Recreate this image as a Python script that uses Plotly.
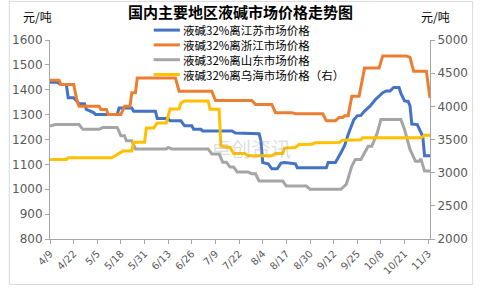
import plotly.graph_objects as go

title = "国内主要地区液碱市场价格走势图"
names = ["液碱32%离江苏市场价格", "液碱32%离浙江市场价格", "液碱32%离山东市场价格", "液碱32%离乌海市场价格（右）"]
colors = ["#4472C4", "#ED7D31", "#A5A5A5", "#FFC000"]

js_dates = ["2023-04-09", "2023-04-13", "2023-04-15", "2023-04-18", "2023-04-19", "2023-04-22", "2023-04-25",
            "2023-04-28", "2023-04-29", "2023-05-03", "2023-05-04", "2023-05-16", "2023-05-17", "2023-05-24",
            "2023-05-25", "2023-06-06", "2023-06-07", "2023-06-13", "2023-06-14", "2023-06-20", "2023-06-22",
            "2023-06-26", "2023-06-27", "2023-07-01", "2023-07-02", "2023-07-18", "2023-07-20", "2023-08-02",
            "2023-08-03", "2023-08-04", "2023-08-07", "2023-08-09", "2023-08-12", "2023-08-14", "2023-08-16",
            "2023-08-22", "2023-08-23", "2023-09-08", "2023-09-09", "2023-09-13", "2023-09-16", "2023-09-18",
            "2023-09-20", "2023-09-23", "2023-09-25", "2023-09-27", "2023-09-29", "2023-10-02", "2023-10-05",
            "2023-10-09", "2023-10-11", "2023-10-13", "2023-10-15", "2023-10-18", "2023-10-19", "2023-10-21",
            "2023-10-23", "2023-10-24", "2023-10-25", "2023-10-28", "2023-10-31", "2023-11-01", "2023-11-04"]
js_vals = [1430, 1430, 1421, 1421, 1368, 1368, 1344,
           1344, 1321, 1308, 1301, 1301, 1327, 1327,
           1314, 1314, 1284, 1284, 1275, 1275, 1255,
           1255, 1241, 1241, 1234, 1234, 1226, 1223,
           1195, 1107, 1102, 1082, 1082, 1105, 1107,
           1102, 1086, 1086, 1108, 1108, 1147, 1175,
           1220, 1278, 1295, 1297, 1314, 1334, 1361,
           1388, 1395, 1395, 1409, 1409, 1385, 1355,
           1353, 1335, 1262, 1260, 1213, 1135, 1135]

zj_dates = ["2023-04-09", "2023-04-14", "2023-04-15", "2023-04-22", "2023-04-24", "2023-04-25", "2023-05-06",
            "2023-05-07", "2023-05-10", "2023-05-11", "2023-05-18", "2023-05-20", "2023-05-23", "2023-05-24",
            "2023-05-26", "2023-05-27", "2023-06-17", "2023-06-19", "2023-07-07", "2023-07-09", "2023-07-29",
            "2023-07-31", "2023-08-09", "2023-08-11", "2023-08-20", "2023-08-22", "2023-09-06", "2023-09-08",
            "2023-09-13", "2023-09-15", "2023-09-17", "2023-09-18", "2023-09-20", "2023-09-22", "2023-09-26",
            "2023-09-29", "2023-10-07", "2023-10-09", "2023-10-22", "2023-10-24", "2023-10-26", "2023-11-02",
            "2023-11-04"]
zj_vals = [1438, 1438, 1421, 1421, 1351, 1334, 1334,
           1321, 1321, 1301, 1301, 1334, 1334, 1388,
           1388, 1447, 1447, 1394, 1394, 1357, 1357,
           1341, 1341, 1308, 1308, 1304, 1304, 1275,
           1275, 1288, 1288, 1295, 1295, 1374, 1374,
           1487, 1487, 1536, 1536, 1530, 1474, 1474,
           1367]

sd_dates = ["2023-04-09", "2023-04-12", "2023-04-25", "2023-04-27", "2023-05-06", "2023-05-08", "2023-05-16",
            "2023-05-18", "2023-05-20", "2023-05-21", "2023-05-24", "2023-05-26", "2023-06-12", "2023-06-13",
            "2023-06-15", "2023-07-05", "2023-07-07", "2023-07-11", "2023-07-13", "2023-07-15", "2023-07-17",
            "2023-07-19", "2023-07-21", "2023-07-27", "2023-07-29", "2023-07-31", "2023-08-02", "2023-08-15",
            "2023-08-17", "2023-08-28", "2023-08-30", "2023-09-16", "2023-09-19", "2023-09-22", "2023-09-24",
            "2023-09-27", "2023-09-29", "2023-10-01", "2023-10-03", "2023-10-06", "2023-10-08", "2023-10-19",
            "2023-10-21", "2023-10-24", "2023-10-27", "2023-10-29", "2023-10-30", "2023-11-01", "2023-11-04"]
sd_vals = [1254, 1260, 1260, 1241, 1241, 1248, 1248,
           1215, 1215, 1195, 1195, 1162, 1162, 1168,
           1162, 1162, 1142, 1142, 1109, 1109, 1089,
           1089, 1069, 1069, 1062, 1062, 1033, 1033,
           1013, 1013, 1000, 1000, 1020, 1093, 1120,
           1120, 1147, 1173, 1173, 1227, 1280, 1280,
           1240, 1160, 1113, 1113, 1122, 1073, 1073]

wh_dates = ["2023-04-09", "2023-04-18", "2023-04-19", "2023-05-13", "2023-05-16", "2023-05-19", "2023-05-24",
            "2023-05-25", "2023-05-31", "2023-06-01", "2023-06-05", "2023-06-07", "2023-06-12", "2023-06-14",
            "2023-06-19", "2023-06-20", "2023-06-22", "2023-07-05", "2023-07-06", "2023-07-11", "2023-07-12",
            "2023-07-17", "2023-07-19", "2023-07-25", "2023-07-27", "2023-08-09", "2023-08-11", "2023-08-15",
            "2023-08-16", "2023-08-22", "2023-08-24", "2023-08-31", "2023-09-02", "2023-09-15", "2023-09-17",
            "2023-09-27", "2023-09-28", "2023-10-30", "2023-11-01", "2023-11-04"]
wh_vals = [3200, 3200, 3225, 3225, 3275, 3325, 3325,
           3460, 3460, 3675, 3675, 3750, 3750, 3960,
           3960, 4050, 4080, 4080, 3955, 3955, 3400,
           3380, 3290, 3290, 3255, 3255, 3290, 3290,
           3370, 3380, 3425, 3430, 3450, 3455, 3490,
           3495, 3525, 3525, 3565, 3565]

tick_dates = ["2023-04-09", "2023-04-22", "2023-05-05", "2023-05-18", "2023-05-31", "2023-06-13", "2023-06-26",
              "2023-07-09", "2023-07-22", "2023-08-04", "2023-08-17", "2023-08-30", "2023-09-12", "2023-09-25",
              "2023-10-08", "2023-10-21", "2023-11-03"]
tick_labels = ["4/9", "4/22", "5/5", "5/18", "5/31", "6/13", "6/26", "7/9", "7/22", "8/4", "8/17", "8/30",
               "9/12", "9/25", "10/8", "10/21", "11/3"]
left_ticks = [800, 900, 1000, 1100, 1200, 1300, 1400, 1500, 1600]
right_ticks = [2000, 2500, 3000, 3500, 4000, 4500, 5000]

CJK = "Noto Sans CJK SC"
L, R, T, B = 43, 45, 40, 47
PW, PH = 480 - L - R, 288 - T - B


def px(x):
    return (x - L) / PW


def py(y):
    return (288 - B - y) / PH


fig = go.Figure()
series = [(js_dates, js_vals, "y"), (zj_dates, zj_vals, "y"), (sd_dates, sd_vals, "y"), (wh_dates, wh_vals, "y2")]
for (d, v, ax), n, c in zip(series, names, colors):
    fig.add_trace(go.Scatter(x=d, y=v, name=n, mode="lines", yaxis=ax,
                             line=dict(color=c, width=3), showlegend=False))

axis_col = "#A6A6A6"
tick_font = dict(family="DejaVu Sans, Arial", size=12, color="#595959")
fig.update_layout(
    width=480, height=288,
    margin=dict(l=L, r=R, t=T, b=B),
    paper_bgcolor="white", plot_bgcolor="white",
    showlegend=False,
    xaxis=dict(type="date", range=["2023-04-09", "2023-11-04"], tickvals=tick_dates, ticktext=tick_labels,
               tickangle=-45, showgrid=False, showline=True, linecolor=axis_col, linewidth=1,
               ticks="outside", ticklen=4, tickcolor=axis_col,
               tickfont=dict(family="DejaVu Sans, Arial", size=10, color="#595959")),
    yaxis=dict(range=[800, 1600], tickvals=left_ticks, showgrid=False, showline=True, linecolor=axis_col,
               linewidth=1, ticks="outside", ticklen=4, tickcolor=axis_col, tickfont=tick_font, zeroline=False),
    yaxis2=dict(range=[2000, 5000], tickvals=right_ticks, overlaying="y", side="right", showgrid=False,
                showline=True, linecolor=axis_col, linewidth=1, ticks="outside", ticklen=4, tickcolor=axis_col,
                tickfont=tick_font, zeroline=False),
)
fig.add_annotation(text="<b>" + title + "</b>", xref="paper", yref="paper", x=px(240), y=py(0),
                   xanchor="center", yanchor="top", showarrow=False, borderpad=0,
                   font=dict(family=CJK, size=15, color="black"))
fig.add_annotation(text="元/吨", xref="paper", yref="paper", x=px(30), y=py(16),
                   xanchor="center", yanchor="middle", showarrow=False, font=dict(family=CJK, size=12, color="black"))
fig.add_annotation(text="元/吨", xref="paper", yref="paper", x=px(441), y=py(16),
                   xanchor="center", yanchor="middle", showarrow=False, font=dict(family=CJK, size=12, color="black"))
fig.add_annotation(text="卓创资讯", xref="paper", yref="paper", x=px(250), y=py(150),
                   xanchor="center", yanchor="middle", showarrow=False,
                   font=dict(family=CJK, size=20, color="rgba(160,160,160,0.35)"))

# legend drawn manually for compact spacing (one multi-line text block)
LEG_FS = 11.5
step = LEG_FS * 1.3
y_first = 30
for i, c in enumerate(colors):
    yy = y_first + i * step
    fig.add_shape(type="line", xref="paper", yref="paper", x0=px(150), x1=px(177), y0=py(yy), y1=py(yy),
                  line=dict(color=c, width=3))
fig.add_annotation(text="<br>".join(names), xref="paper", yref="paper", x=px(179),
                   y=py(y_first + 1.5 * step), xanchor="left", yanchor="middle", align="left",
                   showarrow=False, borderpad=0, font=dict(family=CJK, size=LEG_FS, color="black"))

fig.add_shape(type="rect", xref="paper", yref="paper", x0=px(1), x1=px(479), y0=py(287), y1=py(1),
              line=dict(color="#D9D9D9", width=1), layer="below")
fig.write_html("out.html")
